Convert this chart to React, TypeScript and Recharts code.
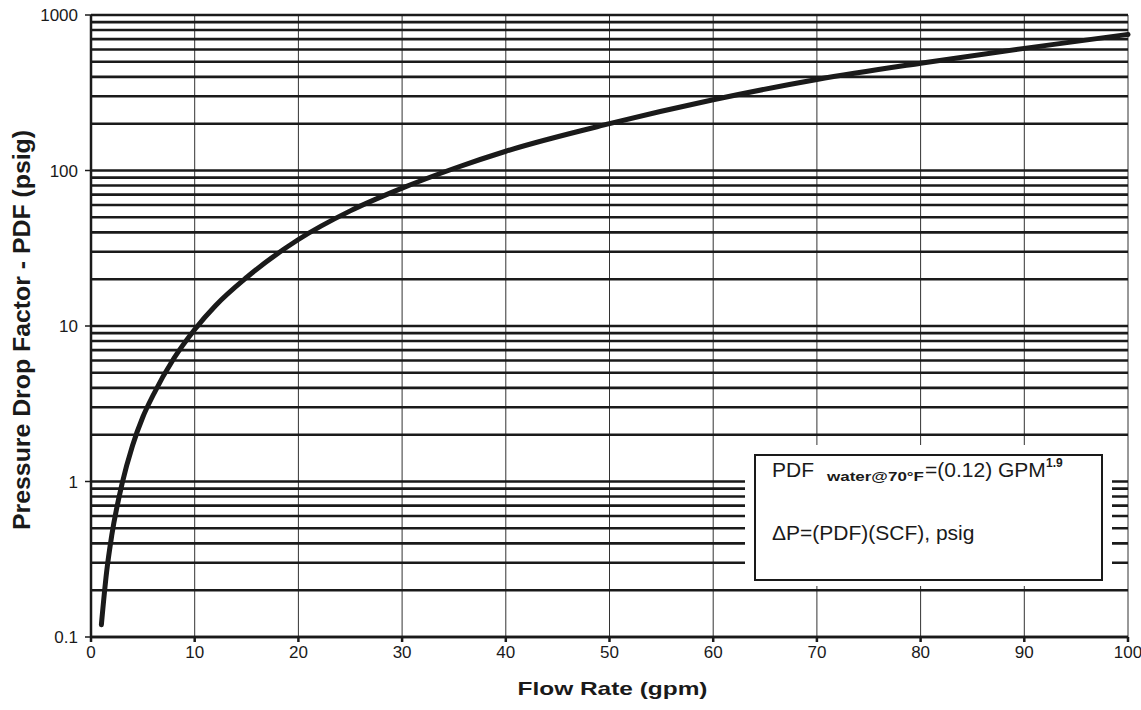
import { LineChart, Line, XAxis, YAxis, CartesianGrid, Label } from "recharts";

// values
const flowRate = [1, 1.5, 2, 3, 4, 5, 6, 8, 10, 12, 15, 20, 25, 30, 35, 40, 50, 60, 70, 80, 90, 100];
const pdf = [0.12, 0.26, 0.45, 0.97, 1.7, 2.6, 3.6, 6.2, 9.5, 13.5, 20.5, 36, 55, 77, 103, 133, 200, 285, 385, 490, 610, 750];

const xTicks = [0, 10, 20, 30, 40, 50, 60, 70, 80, 90, 100];
const yTicks = [
  0.1, 0.2, 0.3, 0.4, 0.5, 0.6, 0.7, 0.8, 0.9,
  1, 2, 3, 4, 5, 6, 7, 8, 9,
  10, 20, 30, 40, 50, 60, 70, 80, 90,
  100, 200, 300, 400, 500, 600, 700, 800, 900,
  1000,
];
const yLabels = [0.1, 1, 10, 100, 1000];

const FONT = '"Liberation Sans", Arial, Helvetica, sans-serif';
const INK = "#1a1a1a";

const data = flowRate.map((x, i) => ({ x, pdf: pdf[i] }));

function YTick(props: any) {
  const { x, y, payload } = props;
  if (!yLabels.includes(payload.value)) return <g />;
  return (
    <g>
      <line x1={x + 7} x2={x + 13} y1={y} y2={y} stroke={INK} strokeWidth={1.5} />
      <text x={x} y={y} dy="0.36em" textAnchor="end" fontSize={17} fontFamily={FONT} fill={INK}>
        {payload.value}
      </text>
    </g>
  );
}

function YTitle(props: any) {
  const vb = props.viewBox;
  const cx = vb.x + 30;
  const cy = vb.y + vb.height / 2 + 4;
  return (
    <text
      x={cx}
      y={cy}
      transform={`rotate(-90, ${cx}, ${cy})`}
      textAnchor="middle"
      fontSize={23}
      fontWeight="bold"
      fontFamily={FONT}
      fill={INK}
      textLength={400}
      lengthAdjust="spacingAndGlyphs"
    >
      Pressure Drop Factor - PDF (psig)
    </text>
  );
}

function XTitle(props: any) {
  const vb = props.viewBox;
  return (
    <text
      x={vb.x + vb.width / 2 + 3}
      y={vb.y + 58}
      textAnchor="middle"
      fontSize={19}
      fontWeight="bold"
      fontFamily={FONT}
      fill={INK}
      textLength={190}
      lengthAdjust="spacingAndGlyphs"
    >
      Flow Rate (gpm)
    </text>
  );
}

export default function App() {
  return (
    <div style={{ position: "absolute", left: 0, top: 0, width: 1141, height: 710, overflow: "hidden", background: "#fff" }}>
      <LineChart width={1141} height={710} data={data} margin={{ top: 15, right: 13, left: 0, bottom: 0 }}>
        <CartesianGrid horizontal={false} stroke="#333" strokeWidth={1} />
        <CartesianGrid vertical={false} stroke={INK} strokeWidth={2.6} />
        <XAxis
          dataKey="x"
          type="number"
          domain={[0, 100]}
          ticks={xTicks}
          interval={0}
          height={73}
          tickSize={5}
          tickMargin={4}
          stroke={INK}
          strokeWidth={2.5}
          tick={{ fontSize: 17, fill: INK, fontFamily: FONT }}
        >
          <Label content={XTitle} />
        </XAxis>
        <YAxis
          type="number"
          scale="log"
          domain={[0.1, 1000]}
          allowDataOverflow
          ticks={yTicks}
          interval={0}
          width={91}
          tickSize={5}
          tickMargin={8}
          tickLine={false}
          stroke={INK}
          strokeWidth={2.5}
          tick={<YTick />}
        >
          <Label content={YTitle} />
        </YAxis>
        <Line
          type="monotone"
          dataKey="pdf"
          stroke={INK}
          strokeWidth={5}
          strokeLinecap="round"
          dot={false}
          isAnimationActive={false}
        />
      </LineChart>
      <div style={{ position: "absolute", left: 745, top: 445, width: 367, height: 141, background: "#fff" }} />
      <svg style={{ position: "absolute", left: 0, top: 0 }} width={1141} height={710} pointerEvents="none">
        <rect x={755} y={455} width={347} height={125} fill="#fff" stroke={INK} strokeWidth={2} />
        <g fontFamily={FONT} fill={INK}>
          <text x={772} y={477} fontSize={21}>PDF</text>
          <text x={827} y={481} fontSize={12} fontWeight="bold" textLength={97} lengthAdjust="spacingAndGlyphs">
            water@70°F
          </text>
          <text x={925} y={477} fontSize={21}>=(0.12) GPM</text>
          <text x={1046} y={467} fontSize={12} fontWeight="bold">1.9</text>
          <text x={772} y={540} fontSize={21}>ΔP=(PDF)(SCF), psig</text>
        </g>
      </svg>
    </div>
  );
}
